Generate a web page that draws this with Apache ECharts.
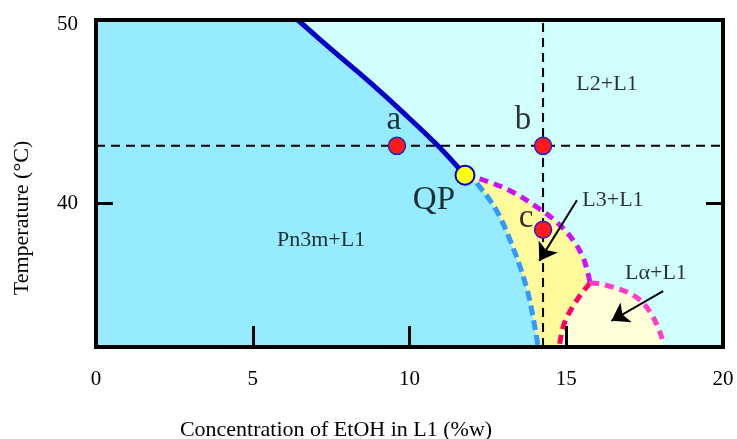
<!DOCTYPE html>
<html><head><meta charset="utf-8">
<script src="https://cdn.jsdelivr.net/npm/echarts@6/dist/echarts.min.js"></script>
<style>html,body{margin:0;padding:0;background:#fff}#c{width:737px;height:439px}</style>
</head><body><div id="c"></div>
<script>
// ---- data ----
const xRange = [0, 20];
const yRange = [32.15, 50];
const xTickStep = 5;
const yTickValues = [40, 50];
const xAxisTitle = 'Concentration of EtOH in L1 (%w)';
const yAxisTitle = 'Temperature (°C)';

// phase boundaries [x, T]
const solidBoundary = [[6.44,50],[7.62,48.23],[8.74,46.59],[9.86,44.85],[10.91,43.13],[11.77,41.53]];
const blueDashed = [[11.77,41.53],[11.99,41.42],[12.25,40.87],[12.57,40.16],[12.89,39.24],[13.21,37.98],[13.53,36.51],[13.78,35.10],[13.94,33.79],[14.07,32.53],[14.10,32.15]];
const magentaDashed = [[11.77,41.53],[12.03,41.42],[12.57,41.14],[13.30,40.60],[14.07,39.78],[14.70,38.96],[15.22,37.98],[15.53,37.06],[15.69,36.19],[15.76,35.64]];
const redDashed = [[15.76,35.64],[15.50,35.10],[15.28,34.55],[15.06,33.90],[14.90,33.24],[14.80,32.42],[14.78,32.15]];
const pinkDashed = [[15.76,35.64],[16.08,35.59],[16.49,35.42],[16.94,35.15],[17.35,34.72],[17.67,34.07],[17.89,33.37],[18.05,32.64],[18.10,32.15]];

const refX = 14.26;     // vertical dashed line
const refY = 43.13;     // horizontal dashed line
const samplePoints = [[9.60,43.13],[14.26,43.13],[14.26,38.55]];
const quadruplePoint = [[11.77,41.53]];
const pointLabels = [['a',9.50,44.51],['b',13.62,44.51],['c',13.72,39.18],['QP',10.78,40.16]];
const regionLabels = [['L2+L1',16.30,46.49],['L3+L1',16.49,40.16],['Lα+L1',17.86,36.19],['Pn3m+L1',7.18,37.98]];
const arrows = [[[15.34,40.16],[14.14,36.85]], [[18.09,35.20],[16.44,33.58]]];

// ---- build ----
const leftRegion = [[xRange[0],yRange[0]],[xRange[0],yRange[1]]].concat(solidBoundary, blueDashed.slice(1));
const yellowRegion = blueDashed.concat(redDashed.slice().reverse(), magentaDashed.slice().reverse());
const lalphaRegion = redDashed.concat(pinkDashed.slice().reverse());
const regions = [leftRegion, yellowRegion, lalphaRegion];
const regionColors = ['#96EBFE', '#FFFB9C', '#FFFFD8'];

const FONT = 'Liberation Serif, Times New Roman, serif';
const chart = echarts.init(document.getElementById('c'));

function dashLine(data, color, width, dash, z, smooth) {
  return { type:'line', data, smooth: smooth ? 0.35 : false, symbol:'none', z,
    lineStyle:{ color, width, type: dash, cap:'butt' }, silent:true, clip:false };
}

chart.setOption({
  animation: false,
  backgroundColor: '#fff',
  grid: { left: 96, right: 14, top: 20, bottom: 92, show: true, backgroundColor: '#D0FFFD', borderWidth: 0 },
  xAxis: [
    { type:'value', min:xRange[0], max:xRange[1], interval:xTickStep, z:10,
      axisLine:{ show:true, onZero:false, lineStyle:{ color:'#000', width:4, cap:'square' } },
      axisTick:{ show:true, inside:true, length:21, lineStyle:{ color:'#000', width:3 } },
      axisLabel:{ margin:22, fontSize:21, color:'#000', fontFamily:FONT },
      splitLine:{ show:false } },
    { type:'value', position:'top', min:xRange[0], max:xRange[1], interval:xTickStep, z:10,
      axisLine:{ show:true, onZero:false, lineStyle:{ color:'#000', width:4, cap:'square' } },
      axisTick:{ show:false }, axisLabel:{ show:false }, splitLine:{ show:false } }
  ],
  yAxis: [
    { type:'value', min:yRange[0], max:yRange[1], z:10,
      axisLine:{ show:true, onZero:false, lineStyle:{ color:'#000', width:4, cap:'square' } },
      axisTick:{ show:true, inside:true, length:17, customValues:yTickValues, lineStyle:{ color:'#000', width:3 } },
      axisLabel:{ margin:18, fontSize:21, color:'#000', fontFamily:FONT, customValues:yTickValues,
        formatter: (v) => (v >= yRange[1] ? '{top|' + v + '}' : '' + v),
        rich:{ top:{ fontSize:21, color:'#000', fontFamily:FONT, padding:[8,0,0,0] } } },
      splitLine:{ show:false } },
    { type:'value', position:'right', min:yRange[0], max:yRange[1], z:10,
      axisLine:{ show:true, onZero:false, lineStyle:{ color:'#000', width:4, cap:'square' } },
      axisTick:{ show:true, inside:true, length:17, customValues:[yTickValues[0]], lineStyle:{ color:'#000', width:3 } },
      axisLabel:{ show:false }, splitLine:{ show:false } }
  ],
  graphic: [
    { type:'text', x:336, y:430, z:20, style:{ text:xAxisTitle, font:'22px ' + FONT, fill:'#000', align:'center', verticalAlign:'middle', textAlign:'center', textVerticalAlign:'middle' } },
    { type:'text', x:22, y:218, rotation:Math.PI/2, z:20, style:{ text:yAxisTitle, font:'22px ' + FONT, fill:'#000', align:'center', verticalAlign:'middle', textAlign:'center', textVerticalAlign:'middle' } }
  ],
  series: [
    { type:'custom', z:1, silent:true, clip:false,
      data: regions.map((r) => r[0]),
      renderItem: function (params, api) {
        const pts = regions[params.dataIndex].map((p) => api.coord(p));
        return { type:'polygon', shape:{ points: pts }, style:{ fill: regionColors[params.dataIndex] } };
      } },
    dashLine([[refX, yRange[0]], [refX, yRange[1]]], '#000', 2, [9, 6], 3, false),
    dashLine([[xRange[0], refY], [xRange[1], refY]], '#000', 2, [9, 6], 3, false),
    dashLine(blueDashed, '#3399FF', 5, [10, 5], 4, true),
    dashLine(magentaDashed, '#CC11FF', 5, [9, 6], 4, true),
    dashLine(redDashed, '#FF0066', 5, [9, 6], 4, true),
    dashLine(pinkDashed, '#FF3DC8', 5, [9, 6], 4, true),
    { type:'line', data: solidBoundary, smooth:0.35, symbol:'none', z:5, silent:true, clip:false,
      lineStyle:{ color:'#0000C8', width:5 } },
    { type:'lines', coordinateSystem:'cartesian2d', z:6, silent:true,
      symbol:['none','arrow'], symbolSize:17,
      lineStyle:{ color:'#000', width:2, curveness:0, opacity:1 },
      data: arrows.map((c) => ({ coords: c })) },
    { type:'scatter', data: samplePoints, symbol:'circle', symbolSize:17, z:7, silent:true,
      itemStyle:{ color:'#FF1A1A', borderColor:'#2020D0', borderWidth:1.5, opacity:1 } },
    { type:'scatter', data: quadruplePoint, symbol:'circle', symbolSize:19, z:7, silent:true,
      itemStyle:{ color:'#FFFF10', borderColor:'#0000C8', borderWidth:2, opacity:1 } },
    { type:'scatter', symbolSize:0, z:8, silent:true,
      data: pointLabels.map((d) => ({ name:d[0], value:[d[1], d[2]] })),
      label:{ show:true, position:'inside', formatter:'{b}', fontSize:33, color:'#000', fontFamily:FONT } },
    { type:'scatter', symbolSize:0, z:8, silent:true,
      data: regionLabels.map((d) => ({ name:d[0], value:[d[1], d[2]] })),
      label:{ show:true, position:'inside', formatter:'{b}', fontSize:22, color:'#000', fontFamily:FONT } }
  ]
});
</script></body></html>
